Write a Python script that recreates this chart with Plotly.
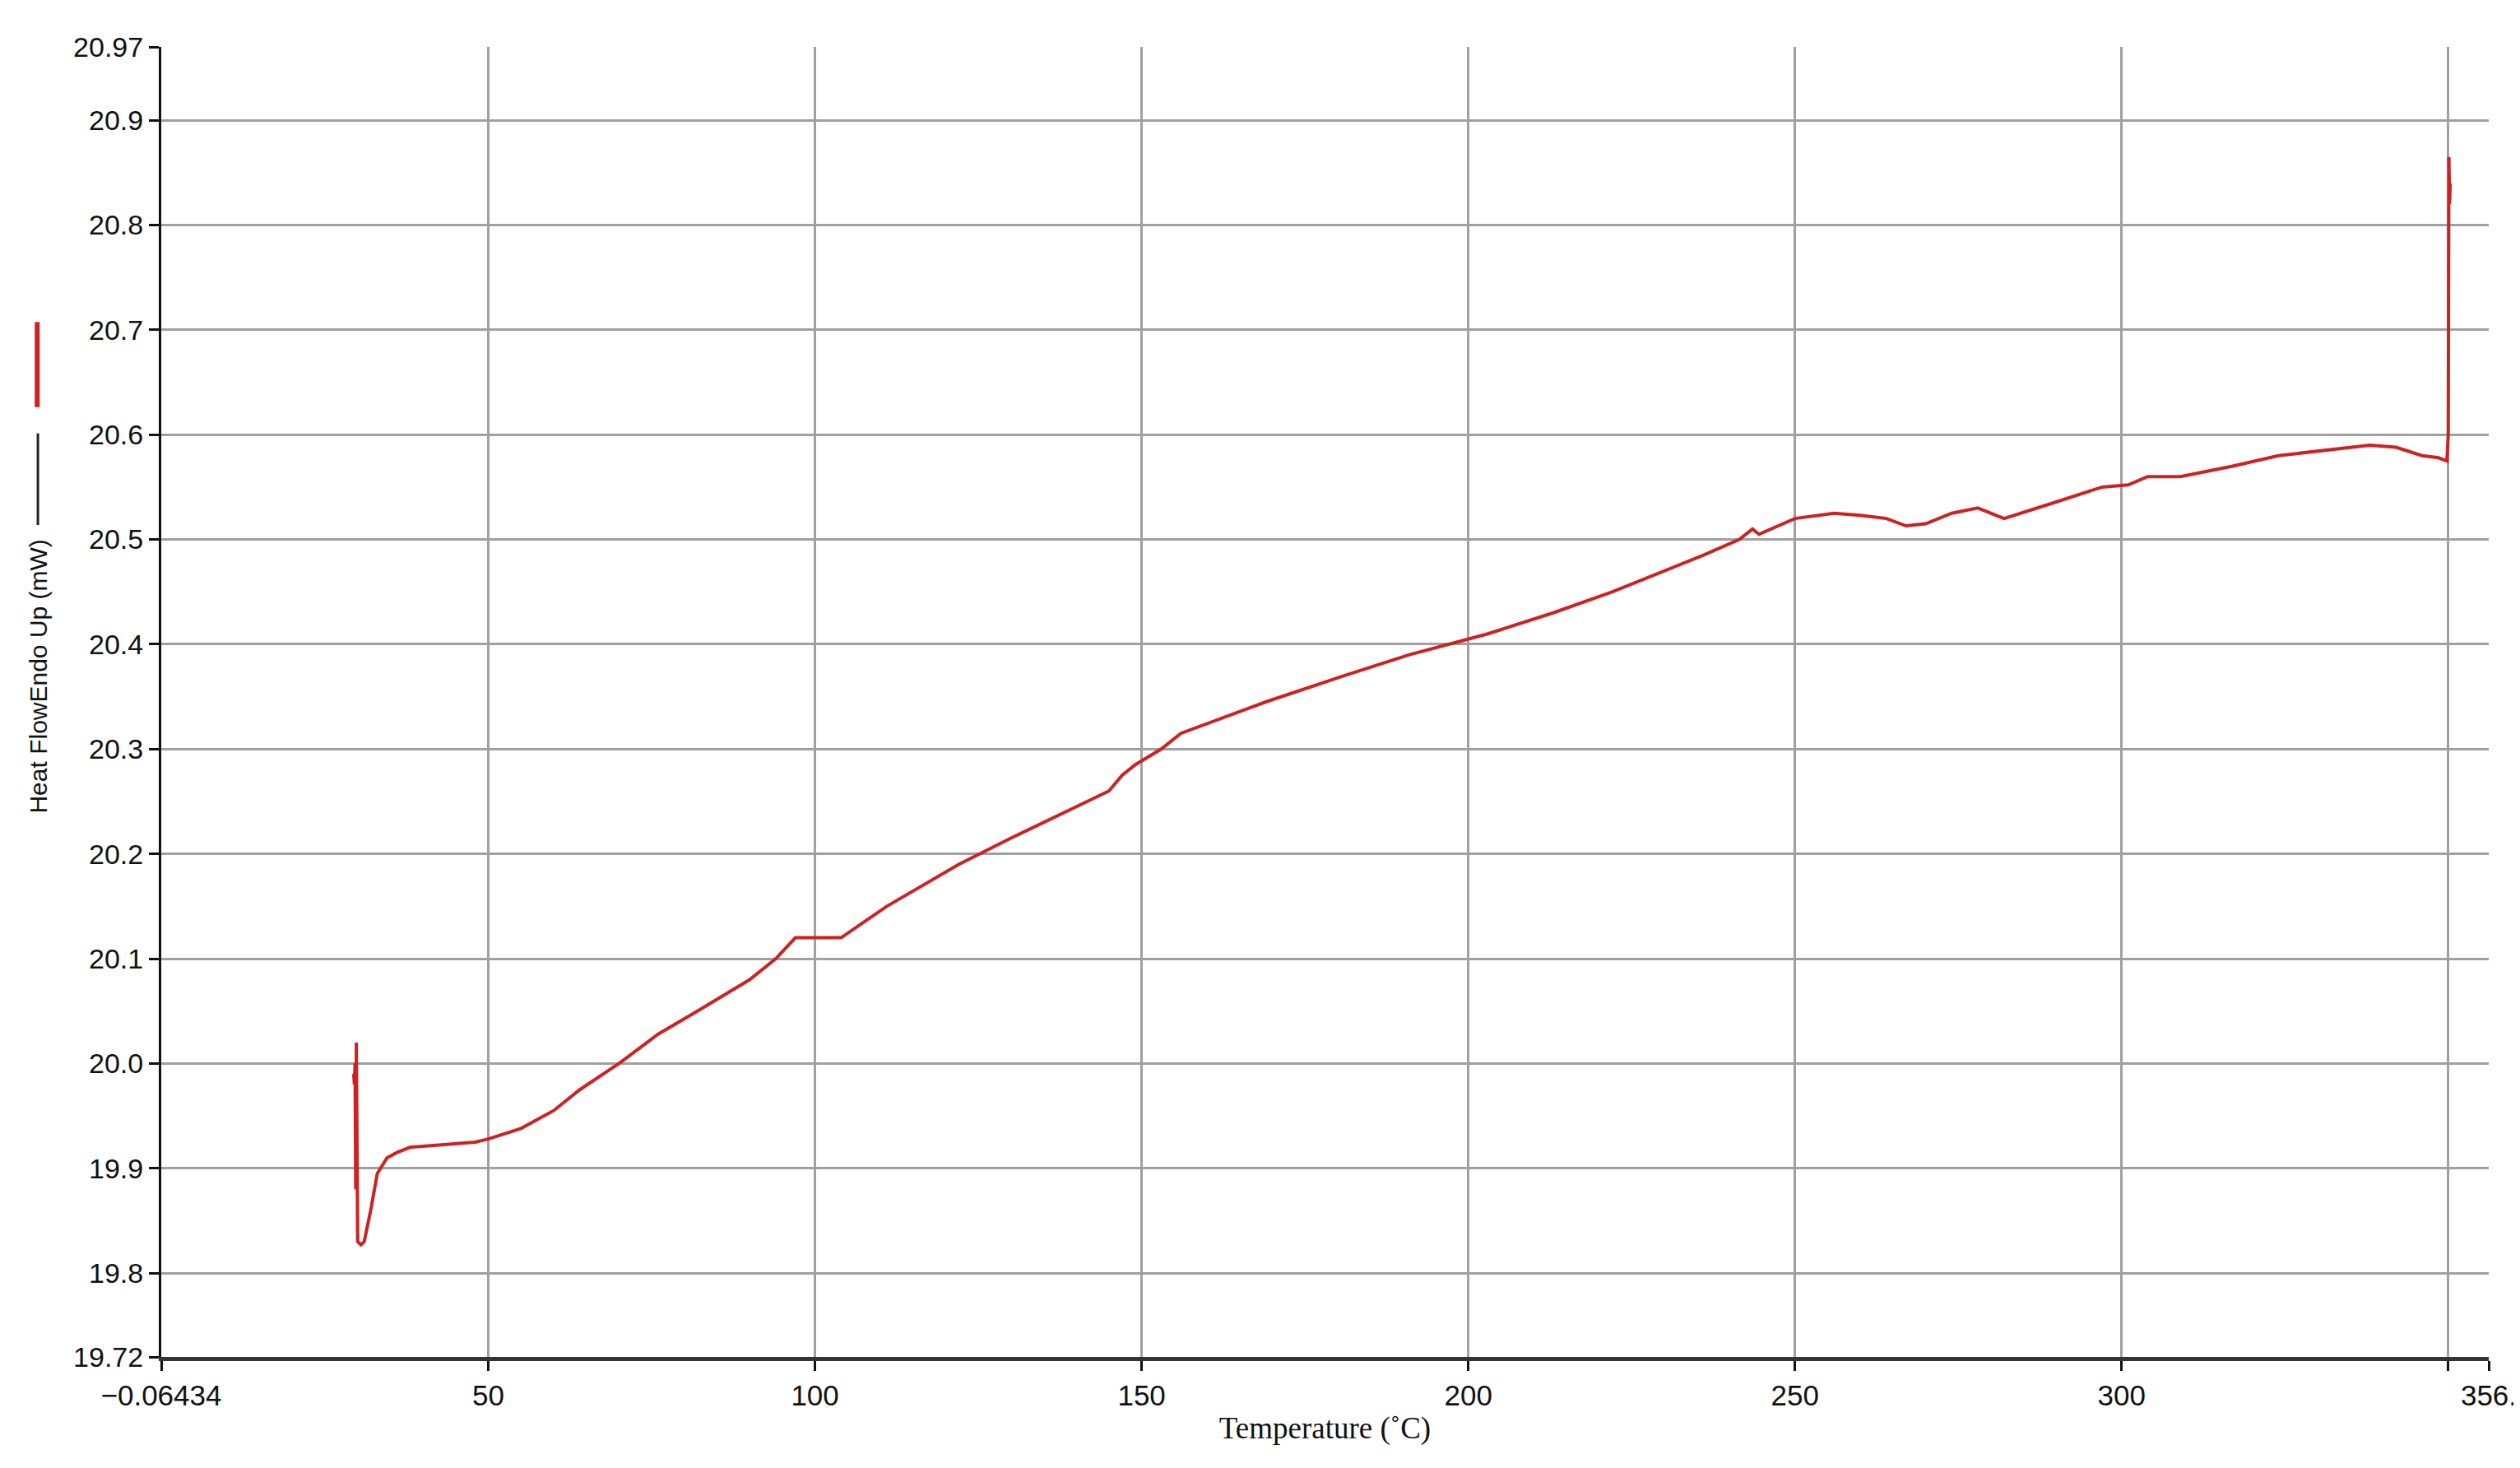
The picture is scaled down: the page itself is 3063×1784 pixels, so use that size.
import plotly.graph_objects as go

temp = [29.4, 29.5, 29.6, 29.7, 29.8, 29.9, 30.0, 30.5, 31.0, 32.0, 33.0, 34.5, 36.0, 38.0, 42.0, 48.0, 50.0,
        55.0, 60.0, 64.0, 70.0, 76.0, 82.0, 90.0, 94.0, 97.0, 104.0, 111.0, 122.0, 130.0, 145.0, 147.0, 149.0,
        153.0, 156.0, 169.0, 181.0, 191.0, 203.0, 213.0, 222.0, 230.0, 236.0, 241.5, 243.5, 244.5, 250.0, 256.0,
        260.0, 264.0, 267.0, 270.0, 274.0, 278.0, 282.0, 289.6, 297.0, 301.0, 304.0, 309.0, 317.0, 324.0, 331.0,
        338.0, 342.0, 346.0, 348.5, 349.8, 350.0, 350.1, 350.2, 350.3]
heat = [19.99, 19.98, 20.00, 19.88, 20.02, 19.85, 19.83, 19.827, 19.83, 19.86, 19.895, 19.91, 19.915, 19.92,
        19.922, 19.925, 19.928, 19.938, 19.955, 19.975, 20.0, 20.028, 20.05, 20.08, 20.1, 20.12, 20.12, 20.15,
        20.19, 20.215, 20.26, 20.275, 20.285, 20.30, 20.315, 20.345, 20.37, 20.39, 20.41, 20.43, 20.45, 20.47,
        20.485, 20.50, 20.51, 20.505, 20.52, 20.525, 20.523, 20.52, 20.513, 20.515, 20.525, 20.53, 20.52, 20.535,
        20.55, 20.552, 20.56, 20.56, 20.57, 20.58, 20.585, 20.59, 20.588, 20.58, 20.578, 20.575, 20.60, 20.865,
        20.82, 20.84]

xticks = [-0.06434, 50, 100, 150, 200, 250, 300, 350, 356.2]
xticklabels = ["\u22120.06434", "50", "100", "150", "200", "250", "300", "", "356."]
yticks = [19.72, 19.8, 19.9, 20.0, 20.1, 20.2, 20.3, 20.4, 20.5, 20.6, 20.7, 20.8, 20.9, 20.97]
yticklabels = ["19.72", "19.8", "19.9", "20.0", "20.1", "20.2", "20.3", "20.4", "20.5", "20.6", "20.7", "20.8", "20.9", "20.97"]

fig = go.Figure(go.Scatter(x=temp, y=heat, mode="lines", line=dict(color="#cc2222", width=4), showlegend=False))

fig.update_layout(
    width=3063, height=1784, paper_bgcolor="white", plot_bgcolor="white",
    margin=dict(l=188, r=38, t=49, b=143),
    font=dict(family="Liberation Sans, Arial", size=34, color="#111"),
)
fig.update_xaxes(range=[-0.06434, 356.2], tickvals=xticks, ticktext=xticklabels,
                 showgrid=True, gridcolor="#a0a0a0", gridwidth=3,
                 showline=True, linecolor="#333", linewidth=5, ticks="outside", ticklen=12, tickwidth=3,
                 tickcolor="#111", tickfont=dict(family="Liberation Sans Narrow, Liberation Sans", size=35),
                 title=dict(text="Temperature (\u02daC)", font=dict(family="Liberation Serif, Times New Roman", size=37), standoff=10),
                 zeroline=False)
fig.update_yaxes(range=[19.72, 20.97], tickvals=yticks, ticktext=yticklabels,
                 showgrid=True, gridcolor="#a0a0a0", gridwidth=3,
                 showline=True, linecolor="#111", linewidth=3, ticks="outside", ticklen=12, tickwidth=3,
                 tickcolor="#111", zeroline=False, title=None)
fig.add_shape(type="line", xref="paper", yref="paper", x0=-0.0533, x1=-0.0533, y0=0.79, y1=0.725,
              line=dict(color="#cc2222", width=6))
fig.add_shape(type="line", xref="paper", yref="paper", x0=-0.053, x1=-0.053, y0=0.705, y1=0.635,
              line=dict(color="#222", width=3))
fig.add_annotation(xref="paper", yref="paper", x=-0.053, y=0.625, text="Heat FlowEndo Up (mW)", textangle=-90,
                   showarrow=False, xanchor="center", yanchor="top", font=dict(size=30))
fig.write_html("out.html")
